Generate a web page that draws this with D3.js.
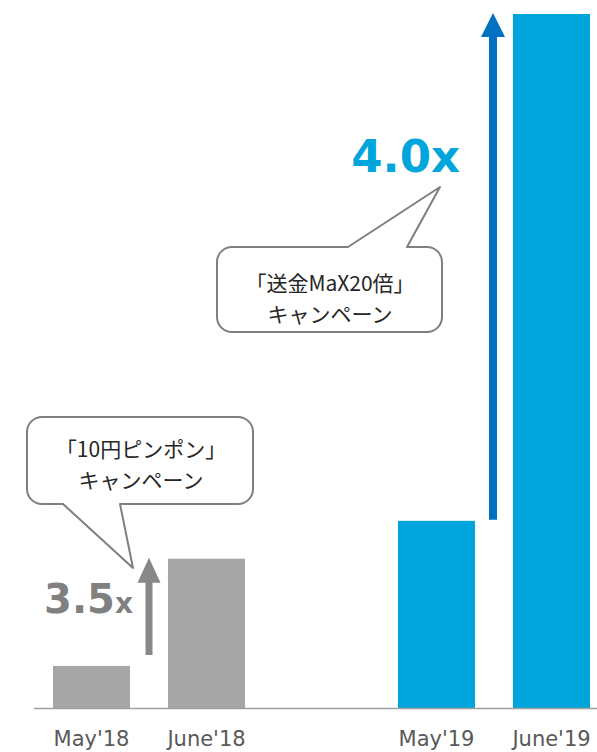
<!DOCTYPE html>
<html><head><meta charset="utf-8">
<script src="https://cdn.jsdelivr.net/npm/d3@7"></script>
<style>html,body{margin:0;padding:0;background:#fff;}</style>
</head><body>
<svg id="chart" width="597" height="752"></svg>
<script>
const categories = ["May'18", "June'18", "May'19", "June'19"];
const slots = ["May'18", "June'18", "", "May'19", "June'19"];
const values = [1.0, 3.55, 4.45, 16.5];
const groups = ["2018", "2018", "2019", "2019"];
const growthLabels = [{big: "3.5", small: "x"}, {big: "4.0x", small: ""}];
const campaigns = [["「10円ピンポン」", "キャンペーン"], ["「送金MaX20倍」", "キャンペーン"]];

const svg = d3.select("#chart");
const baseY = 708;
const x = d3.scaleBand().domain(slots).range([34, 609]).paddingInner(0.33).paddingOuter(0.165);
const y = d3.scaleLinear().domain([0, 16.5]).range([baseY, 14]);
const color = d3.scaleOrdinal().domain(["2018", "2019"]).range(["#a6a6a6", "#00a5dc"]);

// bars
svg.selectAll("rect.bar").data(categories).join("rect")
  .attr("class", "bar")
  .attr("x", d => x(d)).attr("width", x.bandwidth())
  .attr("y", (d, i) => y(values[i]))
  .attr("height", (d, i) => baseY - y(values[i]))
  .attr("fill", (d, i) => color(groups[i]));

// axis line
svg.append("line").attr("x1", 34).attr("x2", 597).attr("y1", baseY + 0.5).attr("y2", baseY + 0.5)
  .attr("stroke", "#a0a0a0").attr("stroke-width", 1.5);

// labels
svg.selectAll("text.lbl").data(categories).join("text")
  .attr("class", "lbl")
  .attr("x", d => x(d) + x.bandwidth() / 2)
  .attr("y", 746)
  .attr("text-anchor", "middle")
  .attr("font-family", "DejaVu Sans, Verdana, sans-serif")
  .attr("font-size", 21)
  .attr("fill", "#595959")
  .text(d => d);

// arrows
function arrow(cx, y0, y1, shaftW, headW, headH, fill) {
  const p = d3.path();
  p.moveTo(cx - shaftW / 2, y0);
  p.lineTo(cx - shaftW / 2, y1 + headH);
  p.lineTo(cx - headW / 2, y1 + headH);
  p.lineTo(cx, y1);
  p.lineTo(cx + headW / 2, y1 + headH);
  p.lineTo(cx + shaftW / 2, y1 + headH);
  p.lineTo(cx + shaftW / 2, y0);
  p.closePath();
  svg.append("path").attr("d", p.toString()).attr("fill", fill);
}
const gap = (x.step() - x.bandwidth()) / 2;
arrow(x("June'18") - gap, 655, y(values[1]) - 1, 7, 23, 25, "#888888");
arrow(x("June'19") - gap - 1, y(values[2]) - 1, y(values[3]) - 1, 8, 24, 24, "#0070c0");

// growth labels
const t1 = svg.append("text").attr("x", 133).attr("y", 613).attr("text-anchor", "end")
  .attr("font-family", "DejaVu Sans, Verdana, sans-serif").attr("font-weight", "bold").attr("fill", "#808080");
t1.append("tspan").attr("font-size", 40).text(growthLabels[0].big);
t1.append("tspan").attr("font-size", 28).text(growthLabels[0].small);
svg.append("text").attr("x", 460).attr("y", 172).attr("text-anchor", "end")
  .attr("font-family", "DejaVu Sans, Verdana, sans-serif").attr("font-weight", "bold")
  .attr("font-size", 45).attr("fill", "#00a5dc").text(growthLabels[1].big);

// callouts
function callout(x0, y0, x1, y1, r, side, ta, tb, tip) {
  const p = d3.path();
  p.moveTo(x0 + r, y0);
  if (side === "top") { p.lineTo(ta, y0); p.lineTo(tip[0], tip[1]); p.lineTo(tb, y0); }
  p.lineTo(x1 - r, y0);
  p.arcTo(x1, y0, x1, y0 + r, r);
  p.lineTo(x1, y1 - r);
  p.arcTo(x1, y1, x1 - r, y1, r);
  if (side === "bottom") { p.lineTo(tb, y1); p.lineTo(tip[0], tip[1]); p.lineTo(ta, y1); }
  p.lineTo(x0 + r, y1);
  p.arcTo(x0, y1, x0, y1 - r, r);
  p.lineTo(x0, y0 + r);
  p.arcTo(x0, y0, x0 + r, y0, r);
  p.closePath();
  svg.append("path").attr("d", p.toString()).attr("fill", "#fff")
    .attr("stroke", "#7f7f7f").attr("stroke-width", 2).attr("stroke-linejoin", "round");
}
function calloutText(cx, yb, lines) {
  svg.append("g").selectAll("text").data(lines).join("text")
    .attr("x", cx).attr("y", (d, i) => yb + i * 31)
    .attr("text-anchor", "middle")
    .attr("font-family", "Noto Sans CJK JP, sans-serif")
    .attr("font-size", 21).attr("fill", "#262626")
    .text(d => d);
}
callout(27, 417, 253, 504, 15, "bottom", 63, 120, [133, 568]);
calloutText(141, 457, campaigns[0]);
callout(217, 247, 442, 332, 15, "top", 348, 407, [440, 187]);
calloutText(330, 291, campaigns[1]);
</script>
</body></html>
